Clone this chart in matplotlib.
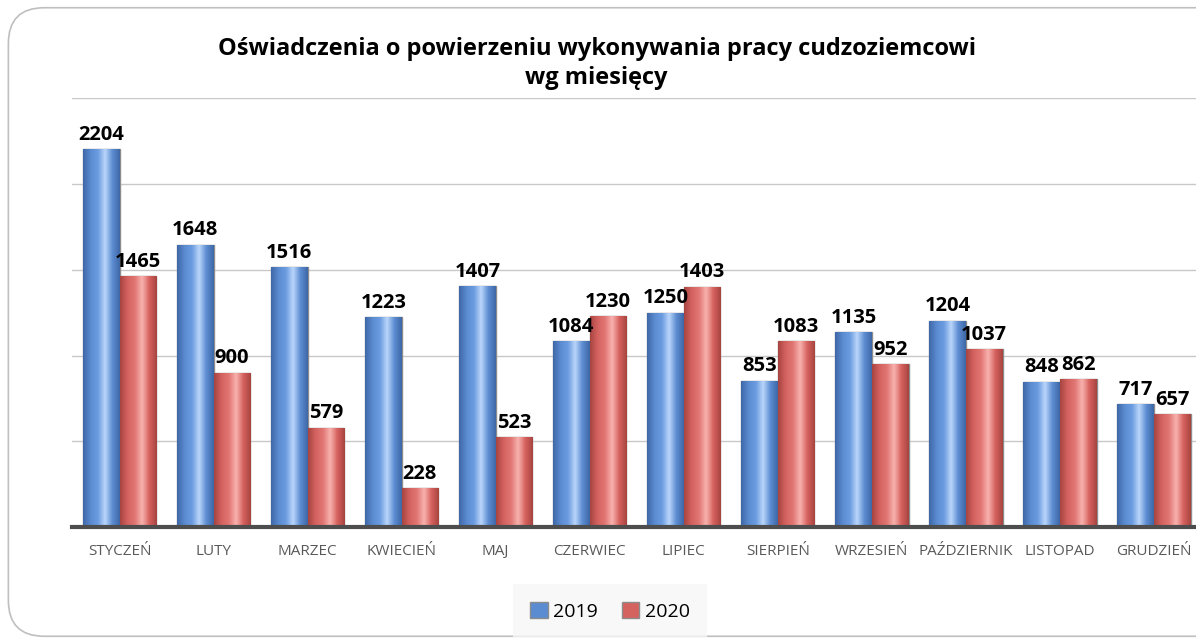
import numpy as np
import matplotlib.pyplot as plt
from matplotlib.patches import FancyBboxPatch
from matplotlib.colors import LinearSegmentedColormap

miesiace = ['STYCZEŃ', 'LUTY', 'MARZEC', 'KWIECIEŃ', 'MAJ', 'CZERWIEC', 'LIPIEC',
            'SIERPIEŃ', 'WRZESIEŃ', 'PAŹDZIERNIK', 'LISTOPAD', 'GRUDZIEŃ']
r2019 = [2204, 1648, 1516, 1223, 1407, 1084, 1250, 853, 1135, 1204, 848, 717]
r2020 = [1465, 900, 579, 228, 523, 1230, 1403, 1083, 952, 1037, 862, 657]

plt.rcParams['font.family'] = ['Open Sans', 'DejaVu Sans']

fig = plt.figure(figsize=(11.96, 6.44), dpi=100)
ax = fig.add_axes([0.0606, 0.1817, 0.9436, 0.6654])

# ramka wykresu (prawa krawedz ucieta jak na oryginale)
fig.patches.append(FancyBboxPatch((0.007, 0.012), 1.05, 0.976,
                                  boxstyle='round,pad=0,rounding_size=0.03',
                                  transform=fig.transFigure, fill=False,
                                  edgecolor='#bfbfbf', linewidth=1.2,
                                  mutation_aspect=1196 / 644))

x = np.arange(len(miesiace))
w = 0.39

cm_blue = LinearSegmentedColormap.from_list('b', ['#3f68a8', '#5b8bd0', '#6a9ae0', '#b9d6fb', '#5d8dd2', '#3f68a8'])
cm_red = LinearSegmentedColormap.from_list('r', ['#a84541', '#d4625f', '#e07572', '#f8b2ae', '#d6625f', '#a84541'])
grad = np.linspace(0, 1, 64).reshape(1, -1)

b1 = ax.bar(x - w / 2, r2019, w, color='#5b8bd0', edgecolor='#8c8c8c', linewidth=1.0, zorder=3)
b2 = ax.bar(x + w / 2, r2020, w, color='#d4625f', edgecolor='#8c8c8c', linewidth=1.0, zorder=3)

for bars, cm in ((b1, cm_blue), (b2, cm_red)):
    for b in bars:
        x0, y0 = b.get_x(), b.get_y()
        im = ax.imshow(grad, cmap=cm, aspect='auto', zorder=3.5,
                       extent=(x0, x0 + b.get_width(), y0, y0 + b.get_height()))
        im.set_clip_path(b)

for bars, vals in ((b1, r2019), (b2, r2020)):
    for b, v in zip(bars, vals):
        ax.text(b.get_x() + b.get_width() / 2, v + 25, str(v), ha='center', va='bottom',
                fontsize=14.5, fontweight='bold', color='black', zorder=5)

ax.set_xlim(-0.5, len(miesiace) - 0.5)
ax.set_ylim(0, 2500)
ax.set_yticks([500, 1000, 1500, 2000, 2500])
ax.yaxis.grid(True, color='#c8c8c8', linewidth=1.0, zorder=0)
ax.tick_params(axis='y', left=False, labelleft=False)
ax.set_xticks(x)
ax.set_xticklabels(miesiace, fontsize=11, color='#595959')
ax.tick_params(axis='x', length=0, pad=12)
for s in ('top', 'right', 'left'):
    ax.spines[s].set_visible(False)
ax.spines['bottom'].set_color('#4d4d4d')
ax.spines['bottom'].set_linewidth(3)
ax.spines['bottom'].set_zorder(4)

fig.text(0.499, 0.901, 'Oświadczenia o powierzeniu wykonywania pracy cudzoziemcowi\nwg miesięcy',
         ha='center', va='center', fontsize=17, fontweight='bold', linespacing=1.3)

leg = fig.legend([b1, b2], ['2019', '2020'], loc='center', bbox_to_anchor=(0.51, 0.051),
                 ncol=2, fontsize=14, frameon=True, handlelength=0.9, handleheight=0.9,
                 handletextpad=0.3, columnspacing=1.2, borderpad=0.6)
leg.get_frame().set_facecolor('#f7f7f7')
leg.get_frame().set_edgecolor('none')
leg.get_frame().set_boxstyle('square')

fig.savefig('out.png', dpi=100)
